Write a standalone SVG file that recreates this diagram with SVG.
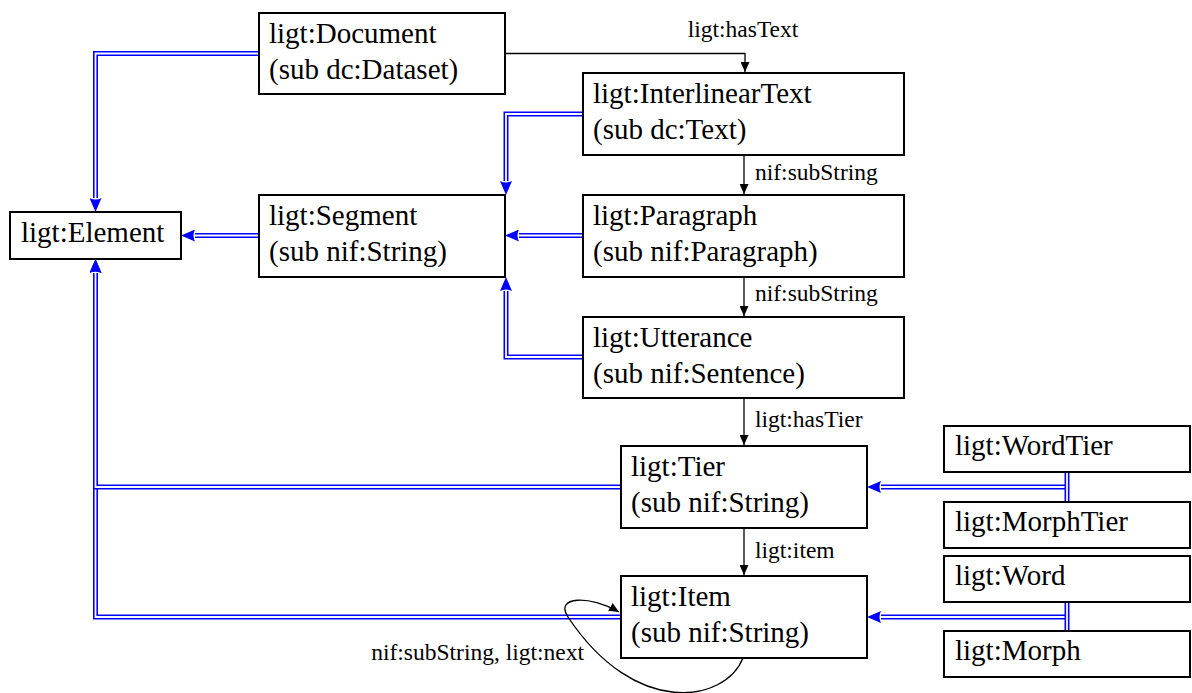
<svg xmlns="http://www.w3.org/2000/svg" width="1192" height="693" viewBox="0 0 1192 693">
<style>
.box{fill:#fff;stroke:#000;stroke-width:2}
.t{font-family:"Liberation Serif","Times New Roman",serif;font-size:29px;fill:#000}
.lbl{font-family:"Liberation Serif","Times New Roman",serif;font-size:23.5px;fill:#000}
.db{fill:none;stroke:#0000ff;stroke-width:5}
.dw{fill:none;stroke:#fff;stroke-width:1.8}
.bl{fill:none;stroke:#000;stroke-width:1.3}
</style>
<defs>
<marker id="ba" markerUnits="userSpaceOnUse" viewBox="0 0 14 12" markerWidth="14" markerHeight="12" refX="0" refY="6" orient="auto">
<path d="M0,0 L14,6 L0,12 Q3,6 0,0 Z" fill="#0000ff"/>
</marker>
<marker id="ka" markerUnits="userSpaceOnUse" viewBox="0 0 10 9" markerWidth="10" markerHeight="9" refX="10" refY="4.5" orient="auto">
<path d="M0,0 L10,4.5 L0,9 Z" fill="#000"/>
</marker>
</defs>
<rect width="1192" height="693" fill="#fff"/>
<g id="connectors">
<path class="db" d="M259,53.5 H95.5 V198" marker-end="url(#ba)"/>
<path class="dw" d="M259,53.5 H95.5 V198"/>
<path class="db" d="M259,235.5 H195" marker-end="url(#ba)"/>
<path class="dw" d="M259,235.5 H195"/>
<path class="db" d="M621,617 H95.5 V273" marker-end="url(#ba)"/>
<path class="dw" d="M621,617 H95.5 V273"/>
<path class="db" d="M621,487 H95.5 V273" marker-end="url(#ba)"/>
<path class="dw" d="M621,487 H95.5 V273"/>
<path class="db" d="M583,114 H506 V181" marker-end="url(#ba)"/>
<path class="dw" d="M583,114 H506 V181"/>
<path class="db" d="M583,235.5 H519" marker-end="url(#ba)"/>
<path class="dw" d="M583,235.5 H519"/>
<path class="db" d="M583,357 H506 V291" marker-end="url(#ba)"/>
<path class="dw" d="M583,357 H506 V291"/>
<path class="db" d="M1067,472 V502"/>
<path class="dw" d="M1067,472 V502"/>
<path class="db" d="M1065,487 H881" marker-end="url(#ba)"/>
<path class="dw" d="M1064.5,487 H881"/>
<path class="db" d="M1067,602 V631"/>
<path class="dw" d="M1067,602 V631"/>
<path class="db" d="M1065,617 H881" marker-end="url(#ba)"/>
<path class="dw" d="M1064.5,617 H881"/>
<path class="bl" d="M505,53.5 H745 V72" marker-end="url(#ka)"/>
<path class="bl" d="M744,155 V194" marker-end="url(#ka)"/>
<path class="bl" d="M744,277 V316" marker-end="url(#ka)"/>
<path class="bl" d="M744,398 V445" marker-end="url(#ka)"/>
<path class="bl" d="M744,528 V575" marker-end="url(#ka)"/>
<path class="bl" d="M743,658 C725,703 635,718 568,617 C554,596 590,595 619,612" marker-end="url(#ka)"/>
<text class="lbl" x="743" y="37" text-anchor="middle">ligt:hasText</text>
<text class="lbl" x="755" y="180">nif:subString</text>
<text class="lbl" x="755" y="301">nif:subString</text>
<text class="lbl" x="755" y="427">ligt:hasTier</text>
<text class="lbl" x="755" y="558">ligt:item</text>
<text class="lbl" x="584" y="660" text-anchor="end">nif:subString, ligt:next</text>
</g>
<g id="element"><rect class="box" x="10" y="212" width="171" height="47"/><text class="t" x="21" y="242">ligt:Element</text></g>
<g id="document"><rect class="box" x="259" y="13" width="246" height="81"/><text class="t" x="269" y="43">ligt:Document</text><text class="t" x="269" y="79">(sub dc:Dataset)</text></g>
<g id="segment"><rect class="box" x="259" y="195" width="246" height="82"/><text class="t" x="269" y="225">ligt:Segment</text><text class="t" x="269" y="261">(sub nif:String)</text></g>
<g id="interlineartext"><rect class="box" x="583" y="73" width="321" height="82"/><text class="t" x="593" y="103">ligt:InterlinearText</text><text class="t" x="593" y="139">(sub dc:Text)</text></g>
<g id="paragraph"><rect class="box" x="583" y="195" width="321" height="82"/><text class="t" x="593" y="225">ligt:Paragraph</text><text class="t" x="593" y="261">(sub nif:Paragraph)</text></g>
<g id="utterance"><rect class="box" x="583" y="317" width="321" height="81"/><text class="t" x="593" y="347">ligt:Utterance</text><text class="t" x="593" y="383">(sub nif:Sentence)</text></g>
<g id="tier"><rect class="box" x="621" y="446" width="246" height="82"/><text class="t" x="631" y="476">ligt:Tier</text><text class="t" x="631" y="512">(sub nif:String)</text></g>
<g id="item"><rect class="box" x="621" y="576" width="246" height="82"/><text class="t" x="631" y="606">ligt:Item</text><text class="t" x="631" y="642">(sub nif:String)</text></g>
<g id="wordtier"><rect class="box" x="944" y="426" width="246" height="46"/><text class="t" x="955" y="455">ligt:WordTier</text></g>
<g id="morphtier"><rect class="box" x="944" y="502" width="246" height="46"/><text class="t" x="955" y="531">ligt:MorphTier</text></g>
<g id="word"><rect class="box" x="944" y="556" width="246" height="46"/><text class="t" x="955" y="585">ligt:Word</text></g>
<g id="morph"><rect class="box" x="944" y="631" width="246" height="46"/><text class="t" x="955" y="660">ligt:Morph</text></g>
</svg>
